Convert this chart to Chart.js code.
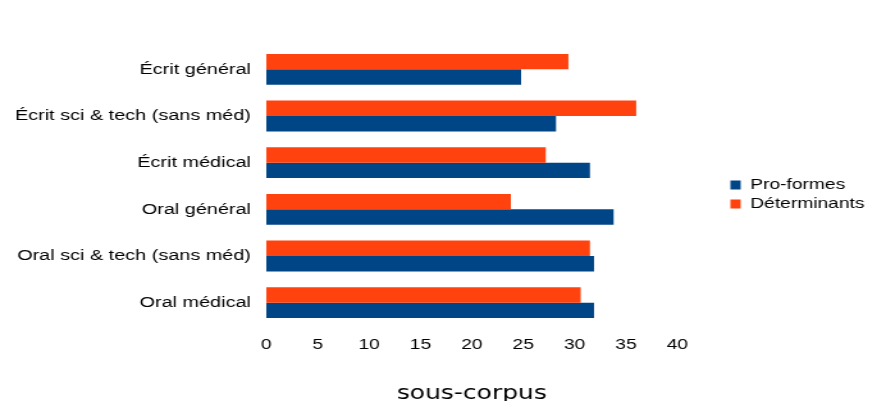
<!DOCTYPE html>
<html>
<head>
<meta charset="utf-8">
<script src="https://cdn.jsdelivr.net/npm/chart.js@4.4.1/dist/chart.umd.min.js"></script>
<style>
  html, body { margin: 0; padding: 0; background: #fff; overflow: hidden; }
  /* the reference text looks stretched sideways, so draw narrower and scale up */
  #wrap { width: 685px; height: 401px; transform: scaleX(1.2803); transform-origin: 0 0; }
</style>
</head>
<body>
<div id="wrap"><canvas id="chart"></canvas></div>
<script>
// categories, top to bottom
const categories = [
    "Écrit général",
    "Écrit sci & tech (sans méd)",
    "Écrit médical",
    "Oral général",
    "Oral sci & tech (sans méd)",
    "Oral médical"
];

// series values
const determinants = [29.4, 36.0, 27.2, 23.8, 31.5, 30.6];
const proformes = [24.8, 28.2, 31.5, 33.8, 31.9, 31.9];

const xTicks = [0, 5, 10, 15, 20, 25, 30, 35, 40];

const ORANGE = "#ff420e";
const BLUE = "#004586";

// legend sits a bit away from the plot and higher than chart.js puts it
const legendShift = {
    id: "legendShift",
    afterLayout(chart) {
        const lg = chart.legend;
        lg.left += 37.5; lg.right += 37.5;
        lg.top -= 29; lg.bottom -= 29;
    }
};

const ctx = document.getElementById("chart");

const chart = new Chart(ctx, {
    type: "bar",
    data: {
        labels: categories,
        datasets: [
            { label: "Déterminants", data: determinants, backgroundColor: ORANGE },
            { label: "Pro-formes", data: proformes, backgroundColor: BLUE }
        ]
    },
    plugins: [legendShift],
    options: {
        indexAxis: "y",
        responsive: true,
        maintainAspectRatio: false,
        animation: false,
        layout: { padding: { top: 46, right: 0, left: 0, bottom: 0 } },
        datasets: { bar: { categoryPercentage: 0.66, barPercentage: 1 } },
        plugins: {
            tooltip: { enabled: false },
            legend: {
                position: "right",
                reverse: true,
                labels: {
                    boxWidth: 8,
                    boxHeight: 9,
                    padding: 4,
                    color: "#000",
                    font: { family: "Liberation Sans", size: 15 }
                }
            }
        },
        scales: {
            x: {
                min: xTicks[0],
                max: xTicks[xTicks.length - 1],
                grid: { display: false },
                border: { display: false },
                ticks: {
                    stepSize: xTicks[1] - xTicks[0],
                    padding: 2,
                    color: "#000",
                    font: { family: "Liberation Sans", size: 15 }
                },
                title: {
                    display: true,
                    text: "sous-corpus",
                    color: "#000",
                    padding: { top: 0, bottom: -3 },
                    font: { family: "DejaVu Sans", size: 19.5, lineHeight: 1 }
                },
                afterFit: (scale) => {
                    scale.height = 75;
                    scale.paddingRight = 156;
                }
            },
            y: {
                grid: { display: false },
                border: { display: false },
                ticks: {
                    padding: 4,
                    color: "#000",
                    font: { family: "Liberation Sans", size: 15.5 }
                },
                afterFit: (scale) => { scale.width = 208; }
            }
        }
    }
});
</script>
</body>
</html>
